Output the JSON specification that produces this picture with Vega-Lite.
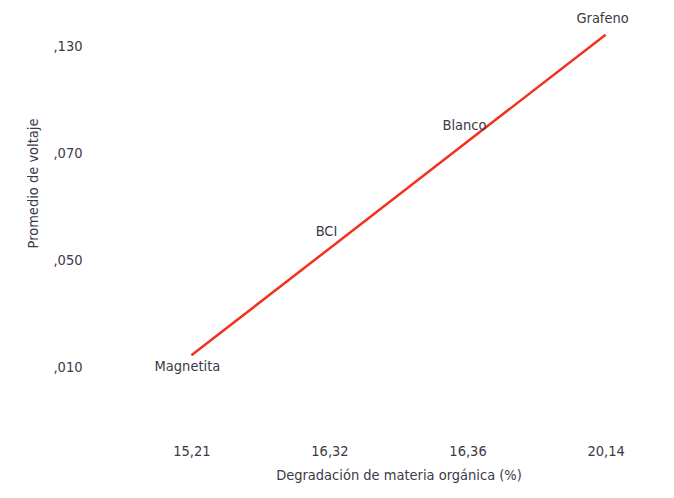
{
  "$schema": "https://vega.github.io/schema/vega-lite/v6.json",
  "autosize": "none",
  "width": 497,
  "height": 342,
  "padding": {"left": 150, "top": 24, "right": 27, "bottom": 132},
  "background": "white",
  "config": {
    "view": {"stroke": null},
    "font": "DejaVu Sans Condensed, Liberation Sans, sans-serif",
    "axis": {
      "labelFont": "DejaVu Sans Condensed, Liberation Sans, sans-serif",
      "titleFont": "DejaVu Sans Condensed, Liberation Sans, sans-serif",
      "labelFontSize": 14.5,
      "titleFontSize": 14.5,
      "labelColor": "#3a3a48",
      "titleColor": "#3a3a48",
      "titleFontWeight": "normal",
      "domain": false,
      "ticks": false,
      "grid": false
    }
  },
  "data": {
    "values": [
      {"degradacion": "15,21", "voltaje": ",010", "tratamiento": "Magnetita"},
      {"degradacion": "16,32", "voltaje": ",050", "tratamiento": "BCI"},
      {"degradacion": "16,36", "voltaje": ",070", "tratamiento": "Blanco"},
      {"degradacion": "20,14", "voltaje": ",130", "tratamiento": "Grafeno"}
    ]
  },
  "encoding": {
    "x": {
      "field": "degradacion",
      "type": "ordinal",
      "sort": null,
      "scale": {"type": "point", "padding": 0.3},
      "axis": {"title": "Degradación de materia orgánica (%)", "labelAngle": 0, "offset": 74, "labelPadding": 4, "titlePadding": 11}
    },
    "y": {
      "field": "voltaje",
      "type": "ordinal",
      "sort": "descending",
      "scale": {"type": "point", "padding": 0.1},
      "axis": {"title": "Promedio de voltaje", "offset": 64, "labelPadding": 4, "labelOffset": 12, "titlePadding": 12, "titleY": 159}
    }
  },
  "layer": [
    {"mark": {"type": "line", "color": "#f2321f", "strokeWidth": 2.5}},
    {
      "transform": [{"filter": "datum.tratamiento !== 'Magnetita'"}],
      "mark": {"type": "text", "fontSize": 14.5, "color": "#3a3a48", "dx": -3, "dy": -16},
      "encoding": {"text": {"field": "tratamiento"}}
    },
    {
      "transform": [{"filter": "datum.tratamiento === 'Magnetita'"}],
      "mark": {"type": "text", "fontSize": 14.5, "color": "#3a3a48", "dx": -4, "dy": 12},
      "encoding": {"text": {"field": "tratamiento"}}
    }
  ]
}
